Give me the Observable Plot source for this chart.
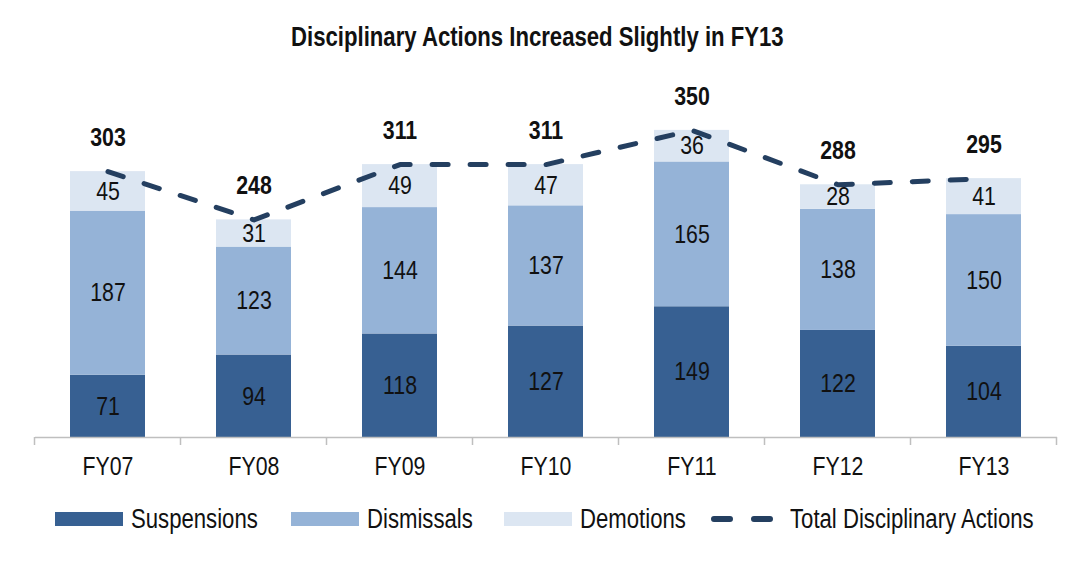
<!DOCTYPE html>
<html>
<head>
<meta charset="utf-8">
<script src="https://cdn.jsdelivr.net/npm/d3@7"></script>
<script src="https://cdn.jsdelivr.net/npm/@observablehq/plot@0.6"></script>
<style>
  html, body { margin: 0; padding: 0; background: #fff; }
  body { width: 1075px; height: 564px; position: relative; overflow: hidden;
         font-family: "Liberation Sans", Arial, sans-serif; color: #111; }
  #title { position: absolute; left: 0; width: 1075px; top: 22px; text-align: center;
           font-size: 27px; font-weight: bold; line-height: 30px; }
  #title span { display: inline-block; transform: scaleX(0.82); }
  #chart { position: absolute; left: 0; top: 60px; }
  .leg { position: absolute; top: 505px; height: 28px; display: flex; align-items: center; font-size: 27px; white-space: nowrap; }
  .leg span { display: inline-block; transform: scaleX(0.82); transform-origin: 0 50%; }
  .sw { width: 68px; height: 14px; margin-right: 8px; }
</style>
</head>
<body>
<div id="title"><span>Disciplinary Actions Increased Slightly in FY13</span></div>
<div id="chart"></div>
<div id="legend"></div>
<script>
const years = ["FY07", "FY08", "FY09", "FY10", "FY11", "FY12", "FY13"];
const suspensions = [71, 94, 118, 127, 149, 122, 104];
const dismissals = [187, 123, 144, 137, 165, 138, 150];
const demotions = [45, 31, 49, 47, 36, 28, 41];
const totals = [303, 248, 311, 311, 350, 288, 295];
const seriesNames = ["Suspensions", "Dismissals", "Demotions"];
const lineName = "Total Disciplinary Actions";
const colors = ["#376092", "#95B3D7", "#DCE6F2"];
const lineColor = "#243F60";

const seriesValues = [suspensions, dismissals, demotions];
const rows = [];
seriesNames.forEach((s, i) => {
  years.forEach((y, j) => rows.push({year: y, type: s, value: seriesValues[i][j]}));
});
const totalRows = years.map((y, j) => ({year: y, total: totals[j]}));

const font = '"Liberation Sans", Arial, sans-serif';
const NARROW = 0.82;

function boundaryTicks(index, scales, values, dims) {
  const x = scales.x, y = scales.y;
  let bw = x.bandwidth; if (typeof bw === "function") bw = bw();
  const cs = years.map(v => x(v) + bw / 2);
  const step = cs[1] - cs[0];
  const pos = cs.map(c => c - step / 2).concat([cs[cs.length - 1] + step / 2]);
  const y0 = y(0);
  const g = d3.create("svg:g");
  for (const p of pos) {
    g.append("line").attr("x1", p).attr("x2", p).attr("y1", y0).attr("y2", y0 + 8)
      .attr("stroke", "#bfbfbf").attr("stroke-width", 1.5);
  }
  return g.node();
}

const plot = Plot.plot({
  width: 1075,
  height: 440,
  marginLeft: 35,
  marginRight: 18,
  marginTop: 26,
  marginBottom: 63,
  style: {fontFamily: font, background: "#fff", color: "#111"},
  x: {domain: years, paddingInner: 0.486, paddingOuter: 0.243, label: null},
  y: {domain: [0, 400], axis: null},
  color: {domain: seriesNames, range: colors},
  marks: [
    Plot.barY(rows, {x: "year", y: "value", fill: "type", order: seriesNames}),
    Plot.text(rows, Plot.stackY({x: "year", y: "value", z: "type", order: seriesNames, text: d => String(d.value), fontSize: 26, fill: "#111"})),
    Plot.ruleY([0], {stroke: "#bfbfbf", strokeWidth: 1.5}),
    boundaryTicks,
    Plot.line(totalRows, {x: "year", y: "total", stroke: lineColor, strokeWidth: 5, strokeDasharray: "16,22", strokeLinecap: "round"}),
    Plot.text(totalRows, {x: "year", y: "total", text: d => String(d.total), dy: -34, fontSize: 26, fontWeight: "bold", fill: "#111"}),
    Plot.axisX({tickSize: 0, tickPadding: 19, fontSize: 26, fill: "#111", label: null})
  ]
});
// condense all text horizontally (Arial Narrow look)
plot.querySelectorAll("text").forEach(t => {
  const tr = t.getAttribute("transform");
  if (tr) {
    t.setAttribute("transform", tr + ` scale(${NARROW},1)`);
  } else {
    const x = +t.getAttribute("x") || 0;
    t.setAttribute("x", x / NARROW);
    t.setAttribute("transform", `scale(${NARROW},1)`);
  }
});
document.getElementById("chart").append(plot);

// legend
const leg = document.getElementById("legend");
const legPos = [55, 291, 504];
seriesNames.forEach((s, i) => {
  const d = document.createElement("div");
  d.className = "leg";
  d.style.left = legPos[i] + "px";
  d.innerHTML = `<div class="sw" style="background:${colors[i]}"></div><span>${s}</span>`;
  leg.append(d);
});
const dl = document.createElement("div");
dl.className = "leg";
dl.style.left = "709px";
dl.innerHTML = `<svg width="76" height="14" style="margin-right:5px"><line x1="5" x2="72" y1="7" y2="7" stroke="${lineColor}" stroke-width="6" stroke-linecap="round" stroke-dasharray="16,24"/></svg><span>${lineName}</span>`;
leg.append(dl);
</script>
</body>
</html>
